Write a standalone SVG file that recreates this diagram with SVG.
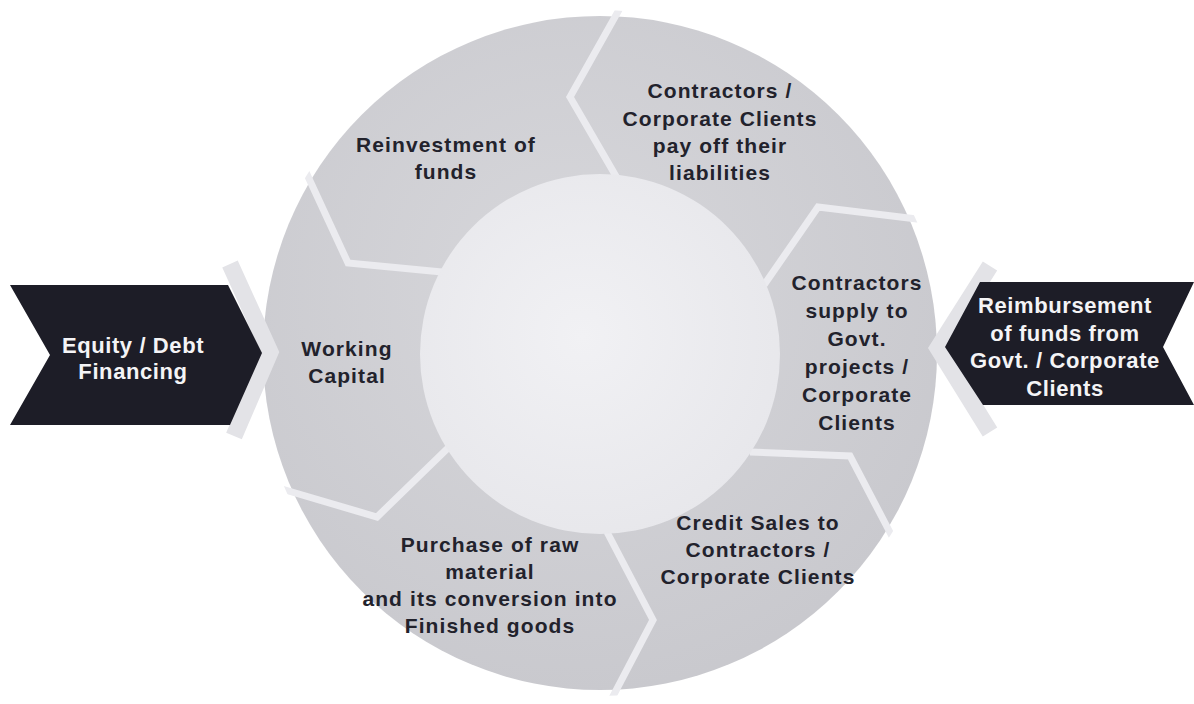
<svg xmlns="http://www.w3.org/2000/svg" width="1194" height="704" viewBox="0 0 1194 704">
  <defs>
    <radialGradient id="ringGrad" cx="0.45" cy="0.4" r="0.65">
      <stop offset="0" stop-color="#d7d7db"/>
      <stop offset="1" stop-color="#c8c8cd"/>
    </radialGradient>
    <radialGradient id="innerGrad" cx="0.45" cy="0.45" r="0.6">
      <stop offset="0" stop-color="#f1f1f4"/>
      <stop offset="1" stop-color="#e7e7eb"/>
    </radialGradient>
    <clipPath id="ringClip">
      <circle cx="600" cy="353" r="343"/>
    </clipPath>
    <style>
      .seg { font-family: "Liberation Sans", Arial, sans-serif; font-weight: bold; font-size: 21px; letter-spacing: 1.1px; fill: #22222c; text-anchor: middle; }
      .side { font-family: "Liberation Sans", Arial, sans-serif; font-weight: bold; font-size: 22px; letter-spacing: 0.6px; fill: #f4f4f6; text-anchor: middle; }
      .sep { fill: none; stroke: #ebebef; stroke-width: 7; stroke-linejoin: miter; stroke-linecap: butt; }
      .halo { fill: none; stroke: #e3e3e7; stroke-width: 17; stroke-linejoin: miter; }
      .chev { fill: #1d1d27; }
    </style>
  </defs>
  <rect width="1194" height="704" fill="#ffffff"/>

  <g id="ring">
    <circle cx="600" cy="353" r="337" fill="url(#ringGrad)"/>
  </g>

  <g id="connectors" clip-path="url(#ringClip)">
    <polyline class="sep" points="620,8 570,97 617,178"/>
    <polyline class="sep" points="305,170 348,263 442,272"/>
    <polyline class="sep" points="275,487 377,517 448,448"/>
    <polyline class="sep" points="607,532 653,620 610,702"/>
    <polyline class="sep" points="750,452 850,456 895,542"/>
    <polyline class="sep" points="764,285 818,207 925,220"/>
  </g>

  <g id="center">
    <circle cx="600" cy="354" r="180" fill="url(#innerGrad)"/>
  </g>

  <g id="reinvestment">
    <text class="seg" x="446" y="152">Reinvestment of</text>
    <text class="seg" x="446" y="179">funds</text>
  </g>

  <g id="pay-off">
    <text class="seg" x="720" y="98">Contractors /</text>
    <text class="seg" x="720" y="126">Corporate Clients</text>
    <text class="seg" x="720" y="153">pay off their</text>
    <text class="seg" x="720" y="180">liabilities</text>
  </g>

  <g id="supply">
    <text class="seg" x="857" y="290">Contractors</text>
    <text class="seg" x="857" y="318">supply to</text>
    <text class="seg" x="857" y="346">Govt.</text>
    <text class="seg" x="857" y="374">projects /</text>
    <text class="seg" x="857" y="402">Corporate</text>
    <text class="seg" x="857" y="430">Clients</text>
  </g>

  <g id="credit-sales">
    <text class="seg" x="758" y="530">Credit Sales to</text>
    <text class="seg" x="758" y="557">Contractors /</text>
    <text class="seg" x="758" y="584">Corporate Clients</text>
  </g>

  <g id="purchase">
    <text class="seg" x="490" y="552">Purchase of raw</text>
    <text class="seg" x="490" y="579">material</text>
    <text class="seg" x="490" y="606">and its conversion into</text>
    <text class="seg" x="490" y="633">Finished goods</text>
  </g>

  <g id="working-capital">
    <text class="seg" x="347" y="356">Working</text>
    <text class="seg" x="347" y="383">Capital</text>
  </g>

  <g id="equity-debt">
    <polyline class="halo" points="230,264 270,352 234,436"/>
    <polygon class="chev" points="10,285 228,285 262,353 230,425 10,425 50,355"/>
    <text class="side" x="133" y="353">Equity / Debt</text>
    <text class="side" x="133" y="379">Financing</text>
  </g>

  <g id="reimbursement">
    <polyline class="halo" points="990,266 938,348 990,432"/>
    <polygon class="chev" points="980,282 1194,282 1163,347 1194,405 983,405 945,347"/>
    <text class="side" x="1065" y="313">Reimbursement</text>
    <text class="side" x="1065" y="341">of funds from</text>
    <text class="side" x="1065" y="368">Govt. / Corporate</text>
    <text class="side" x="1065" y="396">Clients</text>
  </g>
</svg>
